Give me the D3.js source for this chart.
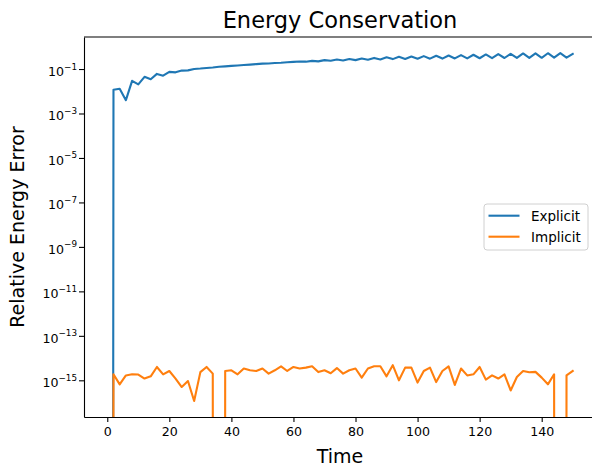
<!DOCTYPE html>
<html>
<head>
<meta charset="utf-8">
<script src="https://cdn.jsdelivr.net/npm/d3@7"></script>
<style>
  html, body { margin: 0; padding: 0; background: #fff; }
  svg { display: block; font-family: "DejaVu Sans", sans-serif; }
</style>
</head>
<body>
<svg id="chart" width="592" height="468"></svg>
<script>
// ---------------- data ----------------
const times = [0,2,4,6,8,10,12,14,16,18,20,22,24,26,28,30,32,34,36,38,40,42,44,46,48,50,
  52,54,56,58,60,62,64,66,68,70,72,74,76,78,80,82,84,86,88,90,92,94,96,98,100,
  102,104,106,108,110,112,114,116,118,120,122,124,126,128,130,132,134,136,138,140,
  142,144,146,148,150];

const explicitError = [0, 1.17e-2, 1.29e-2, 3.98e-3, 2.95e-2, 2.04e-2, 4.47e-2, 3.47e-2, 6.03e-2, 5.01e-2,
  7.41e-2, 7.08e-2, 8.51e-2, 8.71e-2, 0.100, 0.105, 0.112, 0.117, 0.126, 0.132,
  0.138, 0.145, 0.151, 0.158, 0.166, 0.174, 0.178, 0.186, 0.191, 0.200,
  0.209, 0.219, 0.214, 0.232, 0.221, 0.251, 0.234, 0.266, 0.243, 0.282,
  0.251, 0.299, 0.260, 0.316, 0.269, 0.335, 0.279, 0.355, 0.285, 0.367,
  0.288, 0.380, 0.292, 0.394, 0.295, 0.407, 0.299, 0.422, 0.302, 0.437,
  0.305, 0.452, 0.309, 0.468, 0.313, 0.484, 0.316, 0.501, 0.316, 0.507,
  0.320, 0.513, 0.324, 0.519, 0.327, 0.479];

const implicitError = [0, 1.86e-15, 6.6e-16, 1.66e-15, 1.86e-15, 1.82e-15, 1.20e-15, 1.51e-15, 3.98e-15, 1.86e-15,
  2.63e-15, 1.20e-15, 5.0e-16, 9.3e-16, 1.17e-16, 2.34e-15, 3.98e-15, 2.0e-15, 0, 2.63e-15,
  2.82e-15, 1.86e-15, 3.39e-15, 2.82e-15, 2.63e-15, 3.39e-15, 2.0e-15, 2.82e-15, 4.27e-15, 2.63e-15,
  3.98e-15, 3.39e-15, 3.72e-15, 4.27e-15, 2.34e-15, 2.82e-15, 2.09e-15, 3.55e-15, 2.0e-15, 2.82e-15,
  3.39e-15, 1.32e-15, 3.39e-15, 4.27e-15, 4.27e-15, 1.51e-15, 4.79e-15, 1.0e-15, 3.72e-15, 3.72e-15,
  7.9e-16, 2.63e-15, 3.72e-15, 8.3e-16, 2.63e-15, 4.27e-15, 6.2e-16, 3.39e-15, 1.66e-15, 1.86e-15,
  3.98e-15, 1.07e-15, 1.66e-15, 1.20e-15, 1.86e-15, 3.5e-16, 1.41e-15, 2.63e-15, 2.29e-15, 2.40e-15,
  1.32e-15, 6.6e-16, 1.86e-15, 0, 1.66e-15, 2.63e-15];

const seriesNames = ["Explicit", "Implicit"];
const seriesColors = ["#1f77b4", "#ff7f0e"];
const xTicks = [0, 20, 40, 60, 80, 100, 120, 140];
const yTickExps = [-1, -3, -5, -7, -9, -11, -13, -15];
const titleText = "Energy Conservation";
const xLabel = "Time";
const yLabel = "Relative Energy Error";

// ---------------- layout ----------------
const svg = d3.select("#chart");
const L = 84, R = 596, T = 37, B = 417;

const x = d3.scaleLinear().domain([-7.5, 157.5]).range([L, R]);
const y = d3.scaleLog().domain([Math.pow(10, -16.65), Math.pow(10, 0.44)]).range([B, T]);

// clip path for plot area
svg.append("defs").append("clipPath").attr("id", "plotclip")
  .append("rect").attr("x", L).attr("y", T).attr("width", R - L).attr("height", B - T);

// lines (non-positive values clipped to tiny positive, like matplotlib)
const clipVal = v => (v > 0 ? v : 1e-300);
const line = d3.line().x(d => x(d[0])).y(d => y(clipVal(d[1])));

const seriesData = [explicitError, implicitError];
const gLines = svg.append("g").attr("clip-path", "url(#plotclip)");
seriesData.forEach((vals, i) => {
  gLines.append("path")
    .datum(times.map((t, k) => [t, vals[k]]))
    .attr("d", line)
    .attr("fill", "none")
    .attr("stroke", seriesColors[i])
    .attr("stroke-width", 2.1)
    .attr("stroke-linejoin", "round")
    .attr("stroke-linecap", "square");
});

// spines
const spineG = svg.append("g").attr("stroke", "#000").attr("stroke-width", 1.1);
spineG.append("line").attr("x1", L).attr("x2", R).attr("y1", T).attr("y2", T);
spineG.append("line").attr("x1", R).attr("x2", R).attr("y1", T).attr("y2", B);

// x axis
const xAxis = svg.append("g").attr("transform", `translate(0,${B})`)
  .call(d3.axisBottom(x).tickValues(xTicks).tickSize(5).tickSizeOuter(0).tickPadding(5));
xAxis.select(".domain").attr("stroke", "#000").attr("stroke-width", 1.1);
xAxis.selectAll(".tick line").attr("stroke", "#000").attr("stroke-width", 1.1);
xAxis.selectAll(".tick text").attr("font-size", 12.6).attr("font-family", "DejaVu Sans")
  .attr("fill", "#000").attr("dy", "0.72em");

// y axis
const yAxis = svg.append("g").attr("transform", `translate(${L},0)`)
  .call(d3.axisLeft(y).tickValues(yTickExps.map(e => Math.pow(10, e)))
    .tickSize(5).tickSizeOuter(0).tickFormat(""));
yAxis.select(".domain").attr("stroke", "#000").attr("stroke-width", 1.1);
yAxis.selectAll(".tick line").attr("stroke", "#000").attr("stroke-width", 1.1);
yAxis.selectAll(".tick").each(function(d) {
  const e = Math.round(Math.log10(d));
  const t = d3.select(this).append("text")
    .attr("x", -7).attr("y", 6.5)
    .attr("text-anchor", "end")
    .attr("fill", "#000")
    .attr("font-size", 12.6)
    .attr("font-family", "DejaVu Sans");
  t.append("tspan").text("10");
  t.append("tspan").attr("dy", -6.5).attr("font-size", 8.8)
    .text("\u2212" + Math.abs(e));
});

// title and labels
svg.append("text").attr("x", (L + R) / 2).attr("y", 28)
  .attr("text-anchor", "middle").attr("font-size", 22.5).attr("fill", "#000")
  .text(titleText);
svg.append("text").attr("x", (L + R) / 2).attr("y", 463)
  .attr("text-anchor", "middle").attr("font-size", 19).attr("fill", "#000")
  .text(xLabel);
svg.append("text").attr("transform", `translate(24,${(T + B) / 2}) rotate(-90)`)
  .attr("text-anchor", "middle").attr("font-size", 19).attr("fill", "#000")
  .text(yLabel);

// legend
const lg = svg.append("g");
lg.append("rect").attr("x", 484).attr("y", 204).attr("width", 104).attr("height", 46)
  .attr("rx", 3).attr("fill", "#fff").attr("fill-opacity", 0.8)
  .attr("stroke", "#d0d0d0").attr("stroke-width", 1);
seriesNames.forEach((name, i) => {
  const cy = 215.7 + i * 21;
  lg.append("line").attr("x1", 488.5).attr("x2", 519.5).attr("y1", cy).attr("y2", cy)
    .attr("stroke", seriesColors[i]).attr("stroke-width", 2.1);
  lg.append("text").attr("x", 531).attr("y", cy + 5)
    .attr("font-size", 13.5).attr("fill", "#000").text(name);
});
</script>
</body>
</html>
